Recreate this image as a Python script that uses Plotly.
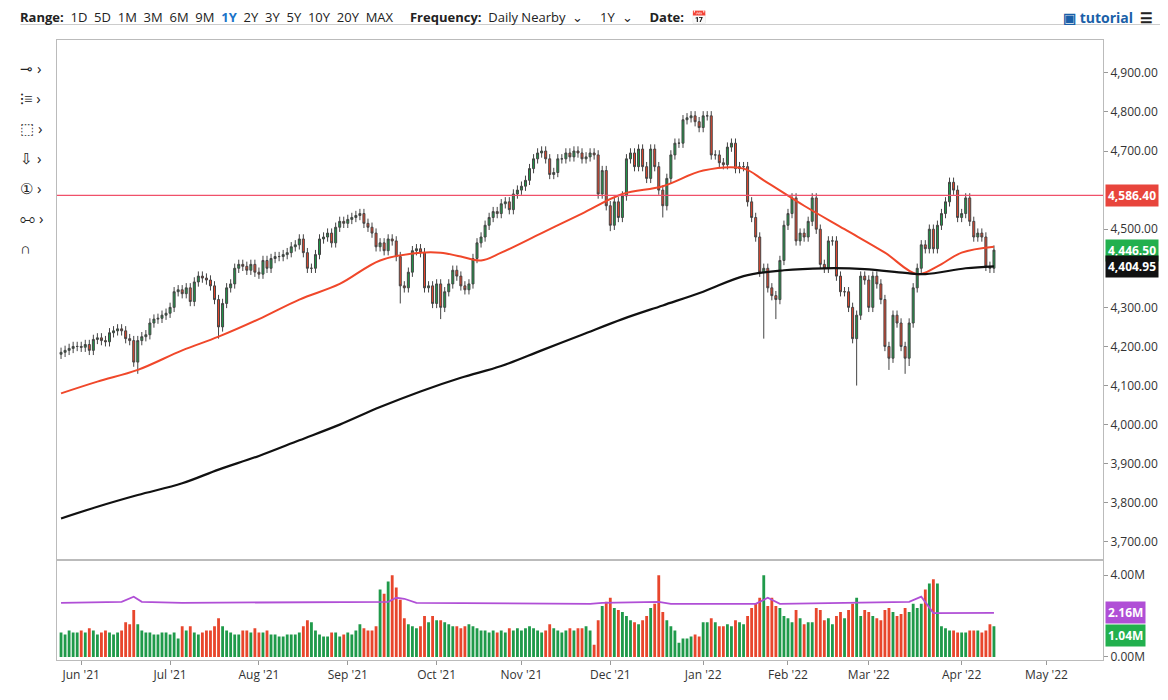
import pandas as pd
import plotly.graph_objects as go
from plotly.subplots import make_subplots

# daily closes, one row per week (Mon..Fri), starting Tue 25 May 2021
closes = [
    4185, 4190, 4195, 4200,
    4200, 4198, 4205, 4190, 4218,
    4222, 4215, 4212, 4235, 4240,
    4245, 4240, 4220, 4215, 4160,
    4215, 4225, 4230, 4260, 4270,
    4272, 4280, 4285, 4300, 4340,
    4345, 4335, 4350, 4315, 4365,
    4380, 4375, 4370, 4355, 4320,
    4250, 4310, 4350, 4360, 4400,
    4410, 4405, 4395, 4410, 4390,
    4385, 4420, 4400, 4425, 4430,
    4430, 4435, 4440, 4455, 4460,
    4475, 4440, 4400, 4400, 4435,
    4475, 4480, 4490, 4465, 4505,
    4520, 4515, 4525, 4530, 4535,
    4540, 4515, 4505, 4490, 4455,
    4465, 4445, 4475, 4470, 4430,
    4355, 4350, 4390, 4445, 4450,
    4440, 4350, 4355, 4310, 4360,
    4300, 4340, 4360, 4395, 4380,
    4355, 4345, 4360, 4425, 4465,
    4480, 4510, 4530, 4545, 4540,
    4565, 4570, 4550, 4590, 4600,
    4610, 4625, 4655, 4680, 4695,
    4700, 4680, 4640, 4645, 4680,
    4680, 4695, 4685, 4700, 4695,
    4680, 4685, 4695, 4690, 4590,
    4650, 4560, 4510, 4570, 4530,
    4585, 4680, 4695, 4660, 4705,
    4660, 4630, 4705, 4660, 4600,
    4560, 4630, 4690, 4720, 4720,
    4780, 4785, 4790, 4775, 4760,
    4790, 4790, 4690, 4690, 4670,
    4665, 4710, 4720, 4655, 4660,
    4660, 4570, 4530, 4480, 4390,
    4400, 4350, 4330, 4320, 4420,
    4510, 4540, 4580, 4470, 4490,
    4480, 4520, 4580, 4500, 4410,
    4400, 4470, 4470, 4380, 4340,
    4340, 4300, 4220, 4280, 4380,
    4370, 4300, 4380, 4360, 4320,
    4200, 4170, 4280, 4260, 4200,
    4170, 4260, 4350, 4400, 4460,
    4450, 4500, 4450, 4510, 4540,
    4570, 4620, 4600, 4530, 4540,
    4580, 4520, 4480, 4490, 4480,
    4405, 4400, 4446.5,
]
first_open = 4180
# long lower wicks visible in the chart
deep_lows = {"2021-06-21": 4130, "2021-07-19": 4220, "2021-09-20": 4310, "2021-10-04": 4270,
             "2021-12-01": 4495, "2021-12-20": 4530, "2022-01-24": 4220, "2022-01-27": 4270,
             "2022-02-24": 4100, "2022-03-08": 4140, "2022-03-14": 4130, "2022-03-15": 4150}

# daily volume in millions, same layout
volumes = [
    1.2, 1.1, 1.3, 1.2,
    1.2, 1.3, 1.2, 1.4, 1.3,
    1.1, 1.2, 1.3, 1.2, 1.1,
    1.2, 1.3, 1.7, 1.6, 2.3,
    1.6, 1.3, 1.2, 1.2, 1.1,
    1.1, 1.2, 1.2, 1.1, 1.2,
    0.9, 1.5, 1.3, 1.5, 1.2,
    1.1, 1.2, 1.3, 1.3, 1.5,
    1.9, 1.5, 1.3, 1.2, 1.1,
    1.1, 1.3, 1.3, 1.2, 1.4,
    1.2, 1.2, 1.3, 1.1, 1.1,
    1.0, 1.0, 1.1, 1.1, 1.1,
    1.2, 1.5, 1.8, 1.7, 1.3,
    1.1, 1.0, 1.0, 1.2, 1.2,
    1.0, 1.1, 1.2, 1.1, 1.3,
    1.6, 1.4, 1.3, 1.3, 1.5,
    3.3, 3.1, 3.7, 4.0, 3.4,
    2.8, 1.9, 1.6, 1.5, 1.4,
    1.5, 2.0, 1.7, 2.0, 1.8,
    1.8, 1.7, 1.6, 1.5, 1.5,
    1.4, 1.5, 1.6, 1.5, 1.4,
    1.3, 1.3, 1.2, 1.3, 1.2,
    1.3, 1.2, 1.4, 1.3, 1.4,
    1.3, 1.4, 1.5, 1.4, 1.3,
    1.2, 1.3, 1.6, 1.4, 1.3,
    1.2, 1.3, 1.4, 1.3, 1.4,
    1.4, 1.5, 1.3, 0.6, 1.8,
    2.5, 2.7, 2.9, 2.4, 2.3,
    2.2, 2.0, 1.8, 1.7, 1.6,
    1.8, 2.0, 2.4, 2.6, 4.0,
    2.2, 1.8, 1.5, 1.3, 0.7,
    0.9, 0.9, 1.0, 1.1, 1.0,
    1.7, 1.7, 1.9, 1.7, 1.5,
    1.5, 1.6, 1.5, 1.8, 1.7,
    1.6, 2.0, 2.4, 2.6, 2.9,
    4.0, 2.5, 2.9, 2.5, 2.4,
    2.0, 1.9, 1.7, 2.3, 1.9,
    1.6, 1.7, 1.7, 2.4, 2.3,
    1.8, 1.9, 1.6, 2.0, 2.2,
    1.9, 2.3, 2.6, 2.9, 2.0,
    2.3, 2.2, 2.0, 1.9, 1.8,
    2.3, 2.4, 2.2, 2.0, 2.1,
    2.4, 2.2, 2.6, 2.4, 2.6,
    3.3, 3.6, 3.8, 3.6, 1.5,
    1.4, 1.3, 1.3, 1.2, 1.2,
    1.2, 1.3, 1.3, 1.3, 1.2,
    1.3, 1.6, 1.5, 1.6, 1.3,
    1.5, 1.8, 1.04,
]

# 50-day (red) and 200-day (black) averages, read weekly
ma50_dates = ["2021-05-25", "2021-06-07", "2021-06-21", "2021-07-06", "2021-07-19", "2021-08-02",
              "2021-08-16", "2021-08-30", "2021-09-13", "2021-09-27", "2021-10-04", "2021-10-11",
              "2021-10-18", "2021-10-25", "2021-11-08", "2021-11-22", "2021-12-06", "2021-12-20",
              "2022-01-03", "2022-01-17", "2022-01-24", "2022-02-07", "2022-02-21", "2022-03-07",
              "2022-03-17", "2022-03-24", "2022-04-01", "2022-04-13"]
ma50 = [4080, 4110, 4140, 4190, 4225, 4270, 4320, 4360, 4420, 4440, 4440, 4430,
        4420, 4440, 4490, 4540, 4590, 4610, 4650, 4655, 4625, 4560, 4500, 4440,
        4385, 4405, 4440, 4455]
ma200_dates = ["2021-05-25", "2021-06-07", "2021-06-21", "2021-07-06", "2021-07-19", "2021-08-02",
               "2021-08-16", "2021-08-30", "2021-09-13", "2021-09-27", "2021-10-11", "2021-10-25",
               "2021-11-08", "2021-11-22", "2021-12-06", "2021-12-20", "2022-01-03", "2022-01-17",
               "2022-01-31", "2022-02-14", "2022-02-28", "2022-03-14", "2022-03-21", "2022-04-04",
               "2022-04-13"]
ma200 = [3760, 3790, 3820, 3850, 3885, 3920, 3960, 4000, 4045, 4085, 4120, 4150,
         4190, 4230, 4270, 4305, 4340, 4380, 4395, 4400, 4398, 4388, 4385, 4400, 4405]
# volume average (purple), millions
vavg_dates = ["2021-05-25", "2021-06-15", "2021-06-18", "2021-06-22", "2021-07-06", "2021-09-15",
              "2021-09-17", "2021-09-21", "2021-09-24", "2021-11-24", "2021-11-29", "2021-12-17",
              "2021-12-22", "2022-01-20", "2022-01-25", "2022-01-28", "2022-03-15", "2022-03-18",
              "2022-03-23", "2022-04-13"]
vavg = [2.65, 2.7, 2.95, 2.7, 2.65, 2.7, 2.9, 2.85, 2.65, 2.6, 2.65, 2.7,
        2.6, 2.6, 2.9, 2.6, 2.7, 2.95, 2.15, 2.16]

resistance = 4586.40
price_ticks = [3700, 3800, 3900, 4000, 4100, 4200, 4300, 4500, 4700, 4800, 4900]

dates = pd.bdate_range("2021-05-25", periods=len(closes))
opens = [first_open] + closes[:-1]
highs = [max(o, c) + 12 for o, c in zip(opens, closes)]
lows = [deep_lows.get(d.strftime("%Y-%m-%d"), min(o, c) - 12) for d, o, c in zip(dates, opens, closes)]
GREEN, RED = "#1f9a4a", "#e8462c"

fig = make_subplots(rows=2, cols=1, shared_xaxes=True, row_heights=[0.84, 0.16], vertical_spacing=0.004)

fig.add_trace(go.Candlestick(
    x=dates, open=opens, high=highs, low=lows, close=closes,
    increasing=dict(fillcolor=GREEN, line=dict(color="#444", width=1)),
    decreasing=dict(fillcolor=RED, line=dict(color="#444", width=1)),
    whiskerwidth=0, showlegend=False), row=1, col=1)
fig.add_trace(go.Scatter(x=pd.to_datetime(ma50_dates), y=ma50, mode="lines", line_shape="spline",
                         line=dict(color="#f0472a", width=2), showlegend=False), row=1, col=1)
fig.add_trace(go.Scatter(x=pd.to_datetime(ma200_dates), y=ma200, mode="lines", line_shape="spline",
                         line=dict(color="#111", width=2.2), showlegend=False), row=1, col=1)
fig.add_hline(y=resistance, line=dict(color="#f0506a", width=1.3), row=1, col=1)

vcol = [GREEN if c >= o else RED for o, c in zip(opens, closes)]
fig.add_trace(go.Bar(x=dates, y=volumes, marker=dict(color=vcol, line=dict(width=0)), showlegend=False),
              row=2, col=1)
fig.add_trace(go.Scatter(x=pd.to_datetime(vavg_dates), y=vavg, mode="lines",
                         line=dict(color="#b04fd6", width=1.8), showlegend=False), row=2, col=1)

ax = dict(showgrid=False, showline=True, linecolor="#bbb", mirror=True, zeroline=False, automargin=False)
fig.update_xaxes(**ax, rangebreaks=[dict(bounds=["sat", "mon"])],
                 range=["2021-05-24", "2022-05-20"], rangeslider_visible=False)
fig.update_xaxes(tickformat="%b '%y", dtick="M1", ticks="outside", ticklen=4, tickcolor="#999",
                 tickfont=dict(size=12, color="#333"), row=2, col=1)
fig.update_yaxes(**ax, side="right", ticks="outside", ticklen=4, tickcolor="#999",
                 tickfont=dict(size=12, color="#333"))
fig.update_yaxes(range=[3657, 4984], tickvals=price_ticks, tickformat=",.2f", row=1, col=1)
fig.update_yaxes(range=[-0.15, 4.69], tickvals=[0, 4], ticktext=["0.00M", "4.00M"], row=2, col=1)

# price / volume flags on the right axis
flags = [(resistance, "4,586.40", "#e8453c", "y"), (4446.5, "4,446.50", "#22b04e", "y"),
         (4404.95, "4,404.95", "#111", "y"), (2.16, "2.16M", "#b04fd6", "y2"), (1.04, "1.04M", "#22b04e", "y2")]
for val, txt, col, yref in flags:
    fig.add_annotation(xref="paper", x=1.0, y=val, yref=yref, text=f"<b>{txt}</b>", showarrow=False,
                       xanchor="left", xshift=2, bgcolor=col, font=dict(color="white", size=12),
                       borderpad=2)

# toolbar
bar = "<b>Range:</b>  1D  5D  1M  3M  6M  9M  <span style='color:#1a73c9'><b>1Y</b></span>  2Y  3Y  5Y  10Y  20Y  MAX" \
      "     <b>Frequency:</b>  Daily Nearby  ⌄     1Y  ⌄     <b>Date:</b>  📅"
fig.add_annotation(xref="paper", yref="paper", x=-0.037, y=1.055, xanchor="left", text=bar, showarrow=False,
                   font=dict(size=13, color="#222"))
fig.add_annotation(xref="paper", yref="paper", x=1.05, y=1.055, xanchor="right",
                   text="<span style='color:#1a5fa8'><b>▣ tutorial</b></span>  <b>☰</b>", showarrow=False,
                   font=dict(size=14, color="#222"))
for i, sym in enumerate(["⊸ ›", "⁝≡ ›", "⬚ ›", "⇩ ›", "① ›", "⧟ ›", "∩"]):
    fig.add_annotation(xref="paper", yref="paper", x=-0.037, y=0.975 - i * 0.0484, xanchor="left",
                       text=sym, showarrow=False, font=dict(size=15, color="#222"))
fig.add_shape(type="line", xref="paper", yref="paper", x0=-0.035, x1=1.06, y0=1.025, y1=1.025,
              line=dict(color="#ccc", width=1))

fig.update_layout(width=1168, height=700, margin=dict(l=49, r=73, t=32, b=48),
                  plot_bgcolor="white", paper_bgcolor="white", bargap=0.3,
                  font=dict(family="Open Sans"))
fig.write_html("out.html")
